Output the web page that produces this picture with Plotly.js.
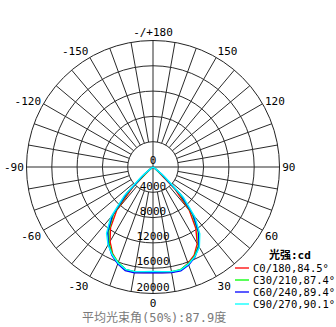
<!DOCTYPE html>
<html>
<head>
<meta charset="utf-8">
<script src="https://cdn.plot.ly/plotly-3.0.1.min.js"></script>
<style>html,body{margin:0;padding:0;background:#fff;}#chart{width:336px;height:327px;}</style>
</head>
<body>
<div id="chart"></div>
<script>
// ---- data ----
const theta = [-90,-85,-80,-75,-70,-65,-60,-55,-50,-45,-40,-35,-30,-25,-20,-15,-10,-5,0,5,10,15,20,25,30,35,40,45,50,55,60,65,70,75,80,85,90];
const seriesNames = ["C0/180,84.5°","C30/210,87.4°","C60/240,89.4°","C90/270,90.1°"];
const seriesColors = ["#ff0000","#00ff00","#0000ff","#00ffff"];
const c0_180 =   [0,0,0,0,0,0,0,100,800,4500,8900,11700,13600,15100,16150,16800,16900,16750,16650,16750,16900,16850,16200,15400,14000,11800,8900,4800,900,100,0,0,0,0,0,0,0];
const c30_210 =  [0,0,0,0,0,0,0,250,1400,5400,9700,12200,13900,15200,16050,16750,16800,16650,16550,16650,16800,16800,16300,15550,14350,12400,9600,5800,1500,250,0,0,0,0,0,0,0];
const c60_240 =  [0,0,0,0,0,0,0,300,1800,5800,10000,12500,14100,15400,16300,16950,17000,16800,16700,16800,16950,17000,16500,15700,14500,12600,9900,6200,1800,300,0,0,0,0,0,0,0];
const c90_270 =  [0,0,0,0,0,0,0,450,2400,6400,10400,12800,14200,15300,16150,16750,16800,16600,16500,16600,16800,16850,16350,15650,14650,12900,10300,6800,2400,450,0,0,0,0,0,0,0];
const angleTickVals = [0,30,60,90,120,150,180,210,240,270,300,330];
const angleTickText = ["0","30","60","90","120","150","-/+180","-150","-120","-90","-60","-30"];
const radialTicks = [0,4000,8000,12000,16000,20000];
const legendTitle = "光强:cd";
const caption = "平均光束角(50%):87.9度";

// ---- grid (spokes every 10 deg outside first ring, full axes through centre) ----
const spokeT = [], spokeR = [];
for (let a = 0; a < 360; a += 10) {
  const full = (a % 90 === 0);
  spokeT.push(a, a, null);
  spokeR.push(full ? 0 : radialTicks[1], radialTicks[radialTicks.length-1], null);
}
const gridColor = "#2a2a2a";
const traces = [{
  type:"scatterpolar", mode:"lines", theta:spokeT, r:spokeR,
  line:{color:gridColor, width:1}, hoverinfo:"skip", showlegend:false, connectgaps:false
}];
const allSeries = [c0_180, c30_210, c60_240, c90_270];
allSeries.forEach((s,i)=>{
  traces.push({type:"scatterpolar", mode:"lines", theta:theta, r:s, name:seriesNames[i],
    line:{color:seriesColors[i], width:1.4}, showlegend:false});
});
traces.push({
  type:"scatterpolar", mode:"text", theta:radialTicks.map(()=>0), r:radialTicks,
  text:radialTicks.map(String), textposition:"top center", cliponaxis:false,
  textfont:{family:"DejaVu Sans Mono", size:11, color:"#000"}, showlegend:false, hoverinfo:"skip"
});

const W = 336, H = 327;
const cx = 153, cy = 167, R = 126.5;
const px = v => v / W, py = v => 1 - v / H;

const annotations = [{
  xref:"paper", yref:"paper", x:px(290), y:py(255), text:"<b>"+legendTitle+"</b>",
  showarrow:false, font:{family:"DejaVu Sans Mono, Noto Sans CJK SC", size:11, color:"#000"},
  xanchor:"center", yanchor:"middle"
},{
  xref:"paper", yref:"paper", x:px(154), y:py(317), text:caption, showarrow:false,
  font:{family:"DejaVu Sans Mono, Noto Sans CJK SC", size:12, color:"#7a7a7a"},
  xanchor:"center", yanchor:"middle"
}];
const shapes = [];
const legY = [268, 280, 292, 304];
seriesNames.forEach((n,i)=>{
  shapes.push({type:"line", xref:"paper", yref:"paper", x0:px(235), x1:px(249), y0:py(legY[i]), y1:py(legY[i]),
    line:{color:seriesColors[i], width:1.3}});
  annotations.push({xref:"paper", yref:"paper", x:px(251), y:py(legY[i]), text:n, showarrow:false,
    xanchor:"left", yanchor:"middle", font:{family:"DejaVu Sans Mono", size:10.5, color:"#000"}});
});

const layout = {
  width:W, height:H, margin:{l:0,r:0,t:0,b:0}, paper_bgcolor:"#fff", showlegend:false,
  polar:{
    domain:{x:[px(cx-R), px(cx+R)], y:[1-(cy+R)/H, 1-(cy-R)/H]},
    bgcolor:"#fff",
    angularaxis:{rotation:-90, direction:"counterclockwise", tickmode:"array",
      tickvals:angleTickVals, ticktext:angleTickText, showgrid:false, showline:true,
      linecolor:"#222", linewidth:1, ticks:"",
      tickfont:{family:"DejaVu Sans Mono", size:11, color:"#000"}},
    radialaxis:{range:[0,20000], tickvals:radialTicks.slice(1), showticklabels:false, ticks:"",
      showline:false, showgrid:true, gridcolor:gridColor, gridwidth:1}
  },
  annotations:annotations, shapes:shapes
};
Plotly.newPlot("chart", traces, layout, {staticPlot:true, displayModeBar:false});
</script>
</body>
</html>
